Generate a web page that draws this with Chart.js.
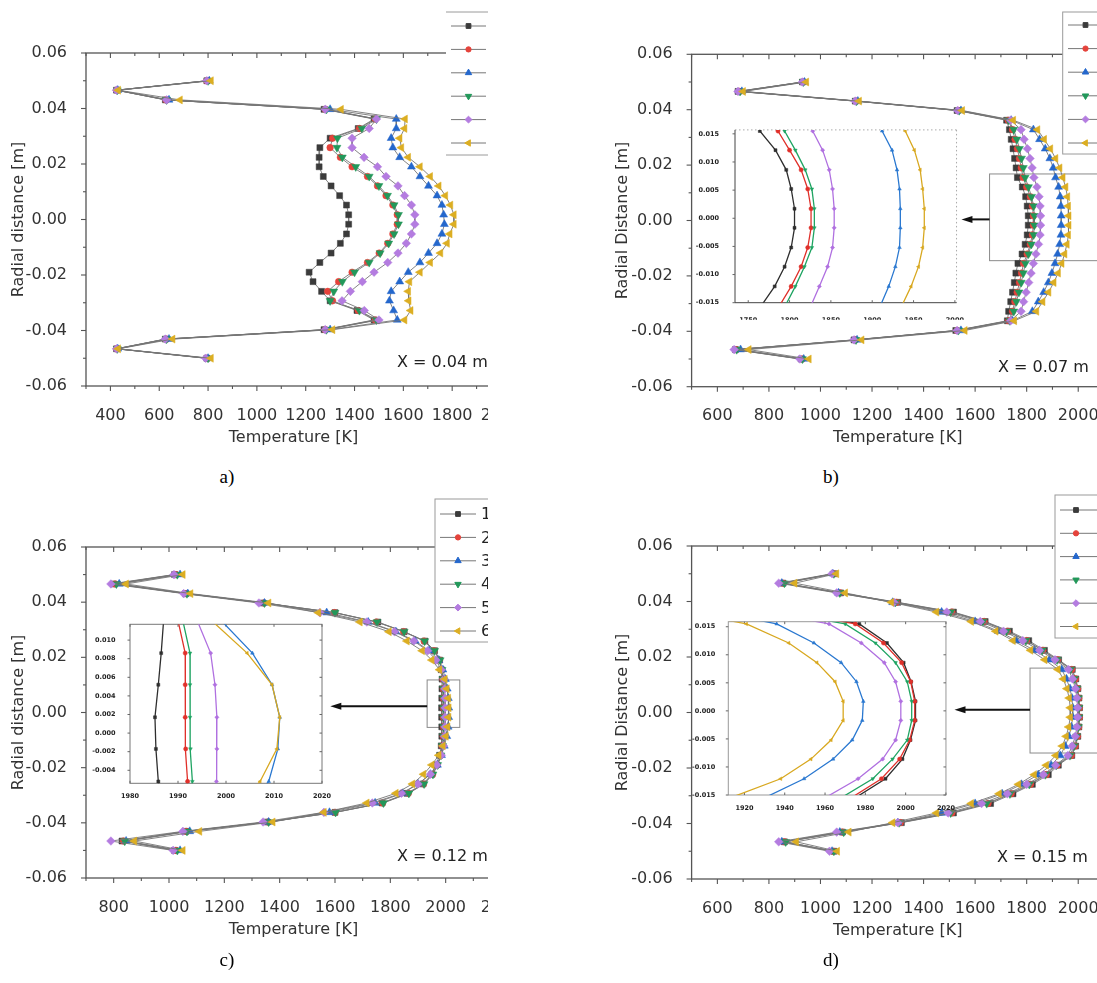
<!DOCTYPE html>
<html>
<head>
<meta charset="utf-8">
<script src="https://cdn.jsdelivr.net/npm/chart.js@4.4.1/dist/chart.umd.min.js"></script>
<style>
  html, body { margin: 0; padding: 0; background: #fff; }
  body { width: 1097px; height: 983px; position: relative; overflow: hidden; }
  .clip { position: absolute; overflow: hidden; }
  .clip canvas, .inset canvas { position: absolute; left: 0; top: 0; }
  .inset { position: absolute; }
  .cap { position: absolute; width: 60px; text-align: center; line-height: 22px;
         font-family: "Liberation Serif", "DejaVu Serif", serif; font-size: 19px; color: #000; }
</style>
</head>
<body>
<div class="clip" style="left:0;top:0;width:488px;height:460px"><canvas id="ca" width="545" height="460"></canvas></div>
<div class="clip" style="left:548px;top:0;width:549px;height:460px"><canvas id="cb" width="600" height="460"></canvas></div>
<div class="clip" style="left:0;top:490px;width:488px;height:460px"><canvas id="cc" width="545" height="460"></canvas></div>
<div class="clip" style="left:548px;top:490px;width:549px;height:460px"><canvas id="cd" width="600" height="460"></canvas></div>
<div class="inset" style="left:690px;top:118px;width:280px;height:205px"><canvas id="ib" width="280" height="205"></canvas></div>
<div class="inset" style="left:90px;top:612px;width:245px;height:195px"><canvas id="ic" width="245" height="195"></canvas></div>
<div class="inset" style="left:688px;top:612px;width:268px;height:200px"><canvas id="id" width="268" height="200"></canvas></div>
<div class="cap" style="left:197px;top:466px">a)</div>
<div class="cap" style="left:801px;top:466px">b)</div>
<div class="cap" style="left:197px;top:949px">c)</div>
<div class="cap" style="left:801px;top:949px">d)</div>
<script>
// radial positions of the 30 probe points [m]
const radialPos = [0.05, 0.0466, 0.0431, 0.0397, 0.0362, 0.0328, 0.0293, 0.0259, 0.0224, 0.019,
  0.0155, 0.0121, 0.0086, 0.0052, 0.0017, -0.0017, -0.0052, -0.0086, -0.0121, -0.0155,
  -0.019, -0.0224, -0.0259, -0.0293, -0.0328, -0.0362, -0.0397, -0.0431, -0.0466, -0.05];

const seriesLabels = ['1', '2', '3', '4', '5', '6'];
const seriesColors = ['#3b3b3b', '#e5433b', '#2467cc', '#22985a', '#b47ce0', '#dcae22'];
const insetColors = ['#2e2e2e', '#e0302a', '#2a78d0', '#1fa462', '#b070e0', '#d8a820'];
const markerStyles = ['rect', 'circle', 'triangle', 'triangle', 'rectRot', 'triangle'];
const markerRotations = [0, 0, 0, 180, 0, -90];
const markerSizes = [4.2, 3.3, 4.6, 4.6, 4.3, 4.6];

// a) X = 0.04 m  (temperature [K] per radial point)
const tA1 = [795, 425, 625, 1275, 1480, 1415, 1300, 1258, 1255, 1255, 1272, 1304, 1339, 1367, 1376, 1376, 1367, 1342, 1304, 1258, 1214, 1230, 1265, 1300, 1410, 1480, 1275, 625, 425, 795];
const tA2 = [795, 425, 628, 1280, 1485, 1420, 1310, 1300, 1342, 1390, 1453, 1494, 1529, 1557, 1575, 1575, 1557, 1536, 1501, 1453, 1390, 1335, 1290, 1310, 1415, 1485, 1280, 628, 425, 795];
const tA3 = [805, 430, 640, 1300, 1571, 1571, 1550, 1557, 1585, 1633, 1668, 1703, 1738, 1758, 1765, 1768, 1758, 1738, 1703, 1668, 1620, 1585, 1550, 1543, 1560, 1575, 1300, 640, 430, 800];
const tA4 = [800, 428, 630, 1285, 1490, 1430, 1330, 1328, 1350, 1405, 1460, 1500, 1535, 1562, 1580, 1580, 1562, 1540, 1505, 1460, 1400, 1350, 1315, 1300, 1420, 1490, 1285, 630, 428, 800];
const tA5 = [795, 425, 630, 1280, 1490, 1460, 1390, 1390, 1439, 1494, 1529, 1578, 1605, 1633, 1647, 1647, 1633, 1612, 1578, 1536, 1480, 1432, 1383, 1349, 1440, 1500, 1280, 625, 425, 790];
const tA6 = [812, 432, 685, 1345, 1607, 1605, 1585, 1592, 1620, 1668, 1710, 1745, 1772, 1793, 1807, 1807, 1790, 1779, 1752, 1710, 1668, 1625, 1620, 1622, 1630, 1605, 1310, 655, 432, 812];

// b) X = 0.07 m
const tB1 = [930, 680, 1135, 1530, 1722, 1733, 1740, 1747, 1753, 1759, 1764, 1783, 1796, 1802, 1806, 1806, 1802, 1794, 1782, 1766, 1758, 1752, 1745, 1738, 1730, 1725, 1525, 1130, 670, 925];
const tB2 = [932, 685, 1138, 1535, 1728, 1745, 1755, 1764, 1772, 1779, 1786, 1800, 1814, 1822, 1826, 1826, 1822, 1814, 1802, 1788, 1780, 1772, 1763, 1754, 1745, 1730, 1530, 1135, 672, 928];
const tB3 = [938, 695, 1145, 1545, 1740, 1826, 1850, 1872, 1890, 1903, 1912, 1924, 1930, 1933, 1934, 1934, 1933, 1928, 1920, 1910, 1898, 1884, 1866, 1845, 1822, 1745, 1545, 1142, 690, 935];
const tB4 = [934, 688, 1140, 1538, 1730, 1750, 1762, 1772, 1780, 1787, 1794, 1807, 1819, 1827, 1830, 1830, 1827, 1818, 1807, 1795, 1787, 1779, 1770, 1760, 1750, 1735, 1535, 1138, 675, 930];
const tB5 = [930, 680, 1135, 1532, 1738, 1778, 1790, 1803, 1813, 1821, 1828, 1840, 1848, 1852, 1854, 1854, 1852, 1846, 1836, 1826, 1817, 1808, 1798, 1788, 1778, 1738, 1530, 1130, 665, 920];
const tB6 = [945, 700, 1150, 1550, 1748, 1842, 1868, 1892, 1912, 1928, 1940, 1951, 1958, 1961, 1963, 1963, 1961, 1956, 1947, 1936, 1922, 1905, 1885, 1862, 1838, 1752, 1560, 1160, 722, 955];

// c) X = 0.12 m
const tC1 = [1020, 800, 1060, 1340, 1600, 1755, 1850, 1925, 1960, 1978, 1984, 1987, 1986.5, 1985.9, 1985.2, 1985.4, 1985.9, 1986, 1984, 1978, 1965, 1950, 1918, 1860, 1770, 1600, 1355, 1060, 830, 1020];
const tC2 = [1025, 805, 1062, 1342, 1598, 1750, 1848, 1922, 1958, 1978, 1986, 1990, 1991.5, 1991.5, 1991.5, 1991.6, 1992, 1991, 1988, 1982, 1970, 1953, 1920, 1865, 1772, 1600, 1358, 1062, 835, 1025];
const tC3 = [1040, 820, 1068, 1345, 1570, 1720, 1820, 1890, 1940, 1975, 1990, 1999, 2005.5, 2009.6, 2011.2, 2010.8, 2008.9, 2004, 1995, 1985, 1970, 1945, 1900, 1845, 1745, 1580, 1360, 1075, 845, 1040];
const tC4 = [1030, 810, 1065, 1345, 1600, 1752, 1850, 1924, 1960, 1980, 1987, 1991, 1992.5, 1992.5, 1992.5, 1992.6, 1993, 1992, 1989, 1983, 1971, 1954, 1922, 1867, 1775, 1602, 1360, 1065, 840, 1030];
const tC5 = [1018, 790, 1053, 1325, 1545, 1715, 1815, 1885, 1935, 1965, 1984, 1994, 1996.8, 1997.7, 1998.1, 1998.1, 1998, 1996, 1992, 1984, 1968, 1945, 1900, 1840, 1735, 1560, 1340, 1050, 790, 1015];
const tC6 = [1050, 845, 1078, 1360, 1540, 1690, 1795, 1860, 1915, 1950, 1978, 1997, 2004.4, 2009.6, 2011.2, 2010.6, 2007.1, 2001, 1990, 1975, 1950, 1920, 1880, 1820, 1715, 1560, 1375, 1110, 875, 1050];

// d) X = 0.15 m
const tD1 = [1055, 855, 1078, 1300, 1516, 1639, 1733, 1808, 1869, 1924, 1977, 1990.7, 1999, 2002.7, 2004.9, 2004.9, 2002.4, 1998.4, 1990, 1975, 1923, 1884, 1822, 1747, 1660, 1516, 1314, 1085, 860, 1052];
const tD2 = [1052, 855, 1076, 1295, 1510, 1635, 1726, 1800, 1863, 1920, 1975, 1989, 1998, 2002.5, 2004.5, 2004.5, 2002, 1997, 1988, 1973, 1918, 1876, 1815, 1740, 1650, 1510, 1310, 1085, 860, 1050];
const tD3 = [1048, 850, 1070, 1280, 1470, 1600, 1690, 1760, 1830, 1888, 1936, 1954.5, 1968, 1975.6, 1979, 1978.5, 1973.5, 1964, 1949.6, 1930, 1895, 1845, 1780, 1705, 1600, 1470, 1300, 1075, 850, 1045];
const tD4 = [1052, 860, 1075, 1290, 1505, 1630, 1722, 1797, 1860, 1918, 1970, 1985, 1995, 2000.8, 2003, 2003, 2000.8, 1993.5, 1983.7, 1968, 1915, 1872, 1810, 1735, 1645, 1505, 1305, 1090, 865, 1052];
const tD5 = [1045, 838, 1063, 1285, 1490, 1620, 1710, 1785, 1850, 1910, 1962, 1978, 1989.4, 1995, 1997.6, 1997.6, 1995, 1988.6, 1976.4, 1960, 1912, 1865, 1800, 1725, 1625, 1495, 1300, 1063, 838, 1035];
const tD6 = [1062, 900, 1096, 1275, 1450, 1585, 1680, 1747, 1815, 1870, 1921, 1942, 1956, 1965, 1969, 1969, 1963, 1953, 1938, 1913, 1876, 1829, 1768, 1693, 1585, 1450, 1280, 1110, 906, 1065];

// tick labels
const yTicksMain = [-0.06, -0.04, -0.02, 0, 0.02, 0.04, 0.06];
const xTicksA = [400, 600, 800, 1000, 1200, 1400, 1600, 1800, 2000];
const xTicksB = [600, 800, 1000, 1200, 1400, 1600, 1800, 2000];
const xTicksC = [800, 1000, 1200, 1400, 1600, 1800, 2000, 2200];
const insetXTicksB = [1750, 1800, 1850, 1900, 1950, 2000];
const insetXTicksC = [1980, 1990, 2000, 2010, 2020];
const insetXTicksD = [1920, 1940, 1960, 1980, 2000, 2020];
const insetYTicksBD = [-0.015, -0.01, -0.005, 0, 0.005, 0.01, 0.015];
const insetYTicksC = [-0.004, -0.002, 0, 0.002, 0.004, 0.006, 0.008, 0.01];

Chart.defaults.font.family = "'DejaVu Sans', sans-serif";

function line(ctx, x0, y0, x1, y1) {
  ctx.beginPath(); ctx.moveTo(x0, y0); ctx.lineTo(x1, y1); ctx.stroke();
}

const decoPlugin = {
  id: 'deco',
  beforeDatasetsDraw(chart, args, o) {
    const {ctx, chartArea: a, scales: {x, y}} = chart;
    ctx.save();
    ctx.strokeStyle = '#555';
    ctx.lineWidth = 1.3;
    ctx.strokeRect(a.left, a.top, a.right - a.left, a.bottom - a.top);
    ctx.lineWidth = 1.1;
    for (let v = Math.ceil(x.min / 100) * 100; v <= x.max; v += 100) {
      const px = x.getPixelForValue(v);
      const len = v % 200 === 0 ? 5 : 3;
      line(ctx, px, a.bottom, px, a.bottom + len);
      line(ctx, px, a.top, px, a.top + len);
    }
    for (let k = -6; k <= 6; k++) {
      const py = y.getPixelForValue(k / 100);
      const len = k % 2 === 0 ? 5 : 3;
      line(ctx, a.left - len, py, a.left, py);
    }
    if (o.box) {
      ctx.strokeStyle = '#8a8a8a';
      ctx.lineWidth = 1;
      const x0 = x.getPixelForValue(o.box.x0), x1 = x.getPixelForValue(o.box.x1);
      const y0 = y.getPixelForValue(o.box.y1), y1 = y.getPixelForValue(o.box.y0);
      ctx.strokeRect(x0, y0, x1 - x0, y1 - y0);
    }
    ctx.restore();
  },
  afterDatasetsDraw(chart, args, o) {
    const {ctx, scales: {x, y}} = chart;
    ctx.save();
    // arrow from the zoom box towards the inset
    if (o.arrow) {
      const x0 = x.getPixelForValue(o.arrow.from), x1 = x.getPixelForValue(o.arrow.to);
      const py = y.getPixelForValue(o.arrow.y);
      ctx.strokeStyle = '#111';
      ctx.fillStyle = '#111';
      ctx.lineWidth = 2;
      line(ctx, x0, py, x1 + 8, py);
      ctx.beginPath();
      ctx.moveTo(x1, py);
      ctx.lineTo(x1 + 11, py - 3.5);
      ctx.lineTo(x1 + 11, py + 3.5);
      ctx.closePath();
      ctx.fill();
    }
    // note text
    ctx.fillStyle = '#222';
    ctx.font = "16px 'DejaVu Sans'";
    ctx.textBaseline = 'middle';
    ctx.textAlign = 'left';
    ctx.fillText(o.note.text, o.note.x, o.note.y);
    // legend
    const lg = o.legend;
    ctx.fillStyle = '#fff';
    ctx.fillRect(lg.left, lg.top, 200, lg.bottom - lg.top);
    ctx.strokeStyle = '#9a9a9a';
    ctx.lineWidth = 1;
    if (lg.openLeft) {
      line(ctx, lg.left, lg.top, lg.left + 200, lg.top);
      line(ctx, lg.left, lg.bottom, lg.left + 200, lg.bottom);
    } else {
      ctx.strokeRect(lg.left, lg.top, 200, lg.bottom - lg.top);
    }
    chart.data.datasets.forEach((ds, i) => {
      const py = lg.first + i * lg.step;
      ctx.strokeStyle = '#777';
      ctx.lineWidth = 1;
      line(ctx, lg.lineX0, py, lg.lineX1, py);
      ctx.fillStyle = seriesColors[i];
      ctx.strokeStyle = seriesColors[i];
      Chart.helpers.drawPoint(ctx, {pointStyle: ds.pointStyle, rotation: ds.pointRotation,
        radius: markerSizes[i] * 0.8, borderWidth: 0.5}, lg.markX, py);
      ctx.fillStyle = '#222';
      ctx.font = "16px 'DejaVu Sans'";
      ctx.fillText(ds.label, lg.textX, py + 1);
    });
    ctx.restore();
  }
};

function mainChart(id, o) {
  const cv = document.getElementById(id);
  return new Chart(cv, {
    type: 'scatter',
    data: {
      datasets: o.series.map((s, i) => ({
        label: seriesLabels[i],
        data: s.map((t, k) => ({x: t, y: radialPos[k]})),
        showLine: true,
        borderColor: '#767676',
        borderWidth: 0.9,
        pointStyle: markerStyles[i],
        pointRotation: markerRotations[i],
        pointRadius: markerSizes[i],
        pointBackgroundColor: seriesColors[i],
        pointBorderColor: seriesColors[i],
        pointBorderWidth: 0.5,
        order: 6 - i,
        clip: false
      }))
    },
    options: {
      responsive: false,
      animation: false,
      devicePixelRatio: 1,
      events: [],
      layout: {padding: {left: 0, top: o.area.top, right: cv.width - o.area.right,
        bottom: cv.height - o.area.bottom - 65}},
      plugins: {legend: {display: false}, tooltip: {enabled: false}, deco: o.deco},
      scales: {
        x: {
          type: 'linear', min: o.xMin, max: o.xMax,
          afterFit: s => { s.height = 65; },
          afterBuildTicks: s => { s.ticks = o.xTicks.map(v => ({value: v})); },
          grid: {display: false}, border: {display: false},
          ticks: {padding: 12, color: '#333', font: {size: 16}, maxRotation: 0, autoSkip: false,
            callback: v => String(v)},
          title: {display: true, text: 'Temperature [K]', color: '#333', font: {size: 16},
            padding: {top: 0, bottom: 4}}
        },
        y: {
          type: 'linear', min: -0.06, max: 0.06,
          afterFit: s => { s.width = o.area.left; },
          afterBuildTicks: s => { s.ticks = yTicksMain.map(v => ({value: v})); },
          grid: {display: false}, border: {display: false},
          ticks: {padding: 11, color: '#333', font: {size: 16}, callback: v => v.toFixed(2)},
          title: {display: true, text: o.yTitle, color: '#333', font: {size: 16},
            padding: {top: o.yTitlePad, bottom: 0}}
        }
      }
    },
    plugins: [decoPlugin]
  });
}

const insetPlugin = {
  id: 'insetDeco',
  beforeDraw(chart) {
    const {ctx, chartArea: a} = chart;
    ctx.save();
    ctx.fillStyle = '#fff';
    ctx.fillRect(a.left, a.top, a.right - a.left, a.bottom - a.top);
    ctx.restore();
  },
  beforeDatasetsDraw(chart, args, o) {
    const {ctx, chartArea: a, scales: {x, y}} = chart;
    ctx.save();
    ctx.lineWidth = 1;
    if (o.dotted) {
      ctx.strokeStyle = '#aaa';
      ctx.setLineDash([1.5, 2.5]);
      line(ctx, a.left, a.top, a.right, a.top);
      line(ctx, a.right, a.top, a.right, a.bottom);
      ctx.setLineDash([]);
      ctx.strokeStyle = '#444';
      line(ctx, a.left, a.top, a.left, a.bottom);
      line(ctx, a.left, a.bottom, a.right, a.bottom);
    } else {
      ctx.strokeStyle = o.frameColor;
      ctx.strokeRect(a.left, a.top, a.right - a.left, a.bottom - a.top);
    }
    ctx.strokeStyle = '#666';
    x.ticks.forEach(t => {
      const px = x.getPixelForValue(t.value);
      line(ctx, px, a.bottom, px, a.bottom - 2.5);
      if (!o.dotted) line(ctx, px, a.top, px, a.top + 2.5);
    });
    y.ticks.forEach(t => {
      const py = y.getPixelForValue(t.value);
      line(ctx, a.left - 2.5, py, a.left, py);
      if (!o.dotted) line(ctx, a.right, py, a.right - 2.5, py);
    });
    ctx.restore();
  }
};

function insetChart(id, o) {
  const cv = document.getElementById(id);
  return new Chart(cv, {
    type: 'scatter',
    data: {
      datasets: o.series.map((s, i) => ({
        data: s.map((t, k) => ({x: t, y: radialPos[k]})),
        showLine: true,
        borderColor: insetColors[i],
        borderWidth: 1.3,
        pointStyle: markerStyles[i],
        pointRotation: markerRotations[i],
        pointRadius: 2.1,
        pointBackgroundColor: insetColors[i],
        pointBorderColor: insetColors[i],
        pointBorderWidth: 0.5,
        order: 6 - i,
        clip: 0
      }))
    },
    options: {
      responsive: false,
      animation: false,
      devicePixelRatio: 1,
      events: [],
      layout: {padding: {left: 0, top: o.area.top, right: cv.width - o.area.right,
        bottom: cv.height - o.area.bottom - o.xh}},
      plugins: {legend: {display: false}, tooltip: {enabled: false}, insetDeco: o.deco},
      scales: {
        x: {
          type: 'linear', min: o.xMin, max: o.xMax,
          afterFit: s => { s.height = o.xh; },
          afterBuildTicks: s => { s.ticks = o.xTicks.map(v => ({value: v})); },
          grid: {display: false}, border: {display: false},
          ticks: {padding: o.xPad, color: '#222', font: {size: 6.5, weight: 'bold'}, maxRotation: 0,
            autoSkip: false, callback: v => String(v)}
        },
        y: {
          type: 'linear', min: o.yMin, max: o.yMax,
          afterFit: s => { s.width = o.area.left; },
          afterBuildTicks: s => { s.ticks = o.yTicks.map(v => ({value: v})); },
          grid: {display: false}, border: {display: false},
          ticks: {padding: o.yPad, color: '#222', font: {size: 6.5, weight: 'bold'},
            autoSkip: false, callback: v => v.toFixed(3)}
        }
      }
    },
    plugins: [insetPlugin]
  });
}

mainChart('ca', {
  series: [tA1, tA2, tA3, tA4, tA5, tA6], xMin: 300, xMax: 2000, xTicks: xTicksA,
  area: {left: 86, top: 53, right: 501, bottom: 386},
  yTitle: 'Radial distance [m]', yTitlePad: 9.4,
  deco: {
    note: {text: 'X = 0.04 m', x: 397, y: 363},
    legend: {left: 446, top: 12, bottom: 155, first: 26, step: 23.4, lineX0: 451, lineX1: 486, markX: 468.5, textX: 490, openLeft: true}
  }
});

mainChart('cb', {
  series: [tB1, tB2, tB3, tB4, tB5, tB6], xMin: 500, xMax: 2100, xTicks: xTicksB,
  area: {left: 143.6, top: 54.3, right: 556, bottom: 386.7},
  yTitle: 'Radial Distance [m]', yTitlePad: 65.7,
  deco: {
    note: {text: 'X = 0.07 m', x: 450, y: 368},
    legend: {left: 514.7, top: 12, bottom: 154, first: 25, step: 23.6, lineX0: 520, lineX1: 555, markX: 537.5, textX: 560},
    box: {x0: 1656, x1: 2200, y0: -0.0145, y1: 0.0168},
    arrow: {from: 1656, to: 1547, y: 0.0004}
  }
});

mainChart('cc', {
  series: [tC1, tC2, tC3, tC4, tC5, tC6], xMin: 700, xMax: 2200, xTicks: xTicksC,
  area: {left: 86, top: 57, right: 501, bottom: 388},
  yTitle: 'Radial distance [m]', yTitlePad: 9.4,
  deco: {
    note: {text: 'X = 0.12 m', x: 397, y: 367},
    legend: {left: 435, top: 9, bottom: 152, first: 24, step: 23.4, lineX0: 440, lineX1: 476, markX: 458, textX: 481},
    box: {x0: 1933, x1: 2051, y0: -0.0054, y1: 0.0118},
    arrow: {from: 1933, to: 1583, y: 0.0023}
  }
});

mainChart('cd', {
  series: [tD1, tD2, tD3, tD4, tD5, tD6], xMin: 500, xMax: 2100, xTicks: xTicksB,
  area: {left: 143.6, top: 56, right: 556, bottom: 389},
  yTitle: 'Radial Distance [m]', yTitlePad: 65.7,
  deco: {
    note: {text: 'X = 0.15 m', x: 449, y: 368},
    legend: {left: 507, top: 5, bottom: 148, first: 20, step: 23.3, lineX0: 512, lineX1: 549, markX: 528, textX: 556},
    box: {x0: 1813, x1: 2200, y0: -0.0146, y1: 0.016},
    arrow: {from: 1813, to: 1520, y: 0.001}
  }
});

insetChart('ib', {
  series: [tB1, tB2, tB3, tB4, tB5, tB6], xMin: 1734, xMax: 2002, xTicks: insetXTicksB,
  yMin: -0.015, yMax: 0.0157, yTicks: insetYTicksBD,
  area: {left: 45, top: 11.3, right: 270, bottom: 184.7}, xh: 17, xPad: 6, yPad: 8,
  deco: {dotted: true}
});

insetChart('ic', {
  series: [tC1, tC2, tC3, tC4, tC5, tC6], xMin: 1980, xMax: 2020, xTicks: insetXTicksC,
  yMin: -0.0054, yMax: 0.0117, yTicks: insetYTicksC,
  area: {left: 40, top: 12.3, right: 232, bottom: 171.3}, xh: 17, xPad: 1, yPad: 6.5,
  deco: {dotted: false, frameColor: '#777'}
});

insetChart('id', {
  series: [tD1, tD2, tD3, tD4, tD5, tD6], xMin: 1912, xMax: 2020, xTicks: insetXTicksD,
  yMin: -0.015, yMax: 0.0159, yTicks: insetYTicksBD,
  area: {left: 40.3, top: 9.7, right: 258.5, bottom: 183}, xh: 15, xPad: 1, yPad: 5,
  deco: {dotted: false, frameColor: '#999'}
});
</script>
</body>
</html>
